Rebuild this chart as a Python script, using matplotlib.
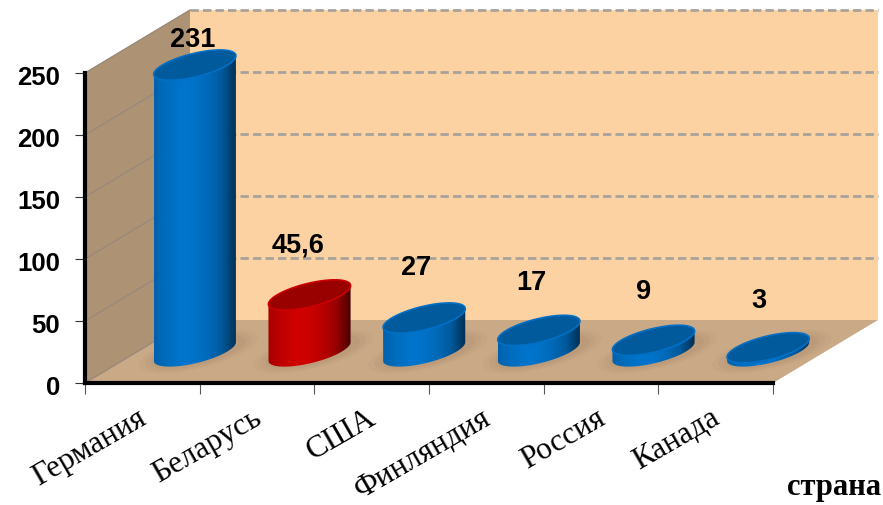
import numpy as np
import matplotlib
matplotlib.use('Agg')
import matplotlib.pyplot as plt
from matplotlib.colors import LinearSegmentedColormap
from matplotlib.patches import Polygon
from matplotlib.transforms import ScaledTranslation

# Data
countries = ['Германия', 'Беларусь', 'США', 'Финляндия', 'Россия', 'Канада']
values = [231, 45.6, 27, 17, 9, 3]
value_labels = ['231', '45,6', '27', '17', '9', '3']
y_ticks = [0, 50, 100, 150, 200, 250]

# Bar styles and label offsets (pixels from bar top centre)
is_red = [False, True, False, False, False, False]
label_dx = [-2, -11, -8, -7, -10, -9]
label_dy = [25, 49, 50, 47, 48, 47]

# Fake 3D box in data units
depth_x = 105 / (688 / 6)
depth_y = 63 / 1.24
rad_x = 0.283
rad_v = 0.24

blue_map = LinearSegmentedColormap.from_list('b', ['#0062ae', '#006ebf', '#0074cc', '#0072c8', '#0068b6', '#00589a', '#002f52'])
red_map = LinearSegmentedColormap.from_list('r', ['#a80000', '#c00000', '#d00000', '#cc0000', '#b80000', '#980000', '#4a0000'])

fig = plt.figure(figsize=(8.83, 5.05), dpi=100)
ax = fig.add_axes([85 / 883, (505 - 383) / 505, 688 / 883, 310 / 505])
ax.patch.set_visible(False)


def ellipse(cx, cy, scale=1.0):
    t = np.linspace(0, 2 * np.pi, 121)
    x = cx + scale * (rad_x * np.cos(t) + rad_v * depth_x * np.sin(t))
    y = cy + scale * rad_v * depth_y * np.sin(t)
    return t, x, y


# Walls and floor
ax.fill([depth_x, 6 + depth_x, 6 + depth_x, depth_x], [depth_y, depth_y, 250 + depth_y, 250 + depth_y],
        color='#fdd2a2', lw=0, zorder=1, clip_on=False)
ax.fill([0, depth_x, depth_x, 0], [0, depth_y, 250 + depth_y, 250], color='#ad9274', lw=0, zorder=1, clip_on=False)
ax.fill([0, 6, 6 + depth_x, depth_x], [0, 0, depth_y, depth_y], color='#c9a986', lw=0, zorder=1, clip_on=False)

# Gridlines
for v in y_ticks:
    if v > 0:
        ax.plot([depth_x, 6 + depth_x], [v + depth_y, v + depth_y], color='#a8a29a', lw=2, ls=(0, (3, 1.5)),
                zorder=2, clip_on=False)
    ax.plot([0, depth_x], [v, v + depth_y], color='#98897a', lw=1, zorder=2, clip_on=False)

# Bars
for i, v in enumerate(values):
    cx = i + 0.5 + depth_x / 2
    base = depth_y / 2
    top = base + v

    # soft floor shadow
    for s, a in [(1.45, 0.04), (1.3, 0.05), (1.15, 0.06)]:
        _, sx, sy = ellipse(cx + 0.03, base, s)
        ax.fill(sx, sy, color='#6b5238', alpha=a, lw=0, zorder=3, clip_on=False)

    t, ex, ey = ellipse(cx, base)
    left = np.argmin(ex[:-1])
    right = np.argmax(ex[:-1])
    t_l, t_r = t[left], t[right]

    # silhouette: lower half of base, upper half of top
    low = (t > t_l) & (t < t_r) if t_l < t_r else (t > t_l) | (t < t_r)
    order = np.argsort((t[low] - t_l) % (2 * np.pi))
    bx, by = ex[low][order], ey[low][order]
    _, ux, uy = ellipse(cx, top)
    up = ~low
    order_up = np.argsort((t[up] - t_r) % (2 * np.pi))
    px = np.r_[bx, ux[up][order_up]]
    py = np.r_[by, uy[up][order_up]]

    body = Polygon(np.c_[px, py], closed=True, fc='none', ec='none', zorder=4, clip_on=False)
    ax.add_patch(body)
    cmap = red_map if is_red[i] else blue_map
    grad = np.linspace(0, 1, 64).reshape(1, -1)
    im = ax.imshow(grad, cmap=cmap, aspect='auto', extent=[px.min(), px.max(), py.min(), py.max()],
                   zorder=4, interpolation='bilinear')
    im.set_clip_box(fig.bbox)
    im.set_clip_path(body)

    # top cap
    ax.fill(ux, uy, fc='#990000' if is_red[i] else '#005a9c', ec='#cc0000' if is_red[i] else '#0070c6',
            lw=1.2, zorder=5, clip_on=False)

    ax.annotate(value_labels[i], (cx, top), xytext=(label_dx[i] * 0.72, label_dy[i] * 0.72),
                textcoords='offset points', ha='center', va='center', fontsize=19.5, fontweight='bold',
                family='Liberation Sans', color='black', zorder=6, annotation_clip=False)

ax.set_xlim(0, 6)
ax.set_ylim(0, 250)

# Axes
for side in ['top', 'right']:
    ax.spines[side].set_visible(False)
ax.spines['left'].set_linewidth(3)
ax.spines['bottom'].set_linewidth(3)
ax.spines['left'].set_zorder(7)
ax.spines['bottom'].set_zorder(7)

ax.set_yticks(y_ticks)
ax.set_yticklabels([str(v) for v in y_ticks], fontsize=18.5, fontweight='bold', family='Liberation Sans')
ax.tick_params(axis='y', length=7, width=0.8, color='#333333', pad=11)
for lab in ax.get_yticklabels():
    lab.set_transform(lab.get_transform() + ScaledTranslation(0, -0.025, fig.dpi_scale_trans))

ax.set_xticks(np.arange(0, 7))
ax.set_xticklabels([])
ax.tick_params(axis='x', which='major', length=8, width=0.8, color='#555555')
ax.set_xticks(np.arange(6) + 0.5, minor=True)
ax.set_xticklabels(countries, minor=True, fontsize=22.5, family='Liberation Serif', rotation=30,
                   ha='right', va='top', rotation_mode='anchor')
ax.tick_params(axis='x', which='minor', length=0, pad=15)
for lab in ax.get_xticklabels(minor=True):
    lab.set_transform(lab.get_transform() + ScaledTranslation(-0.05, 0, fig.dpi_scale_trans))

fig.text(881 / 883, (505 - 487) / 505, 'страна', fontsize=22, fontweight='bold', family='Liberation Serif',
         ha='right', va='center')

plt.savefig('out.png', dpi=100)
